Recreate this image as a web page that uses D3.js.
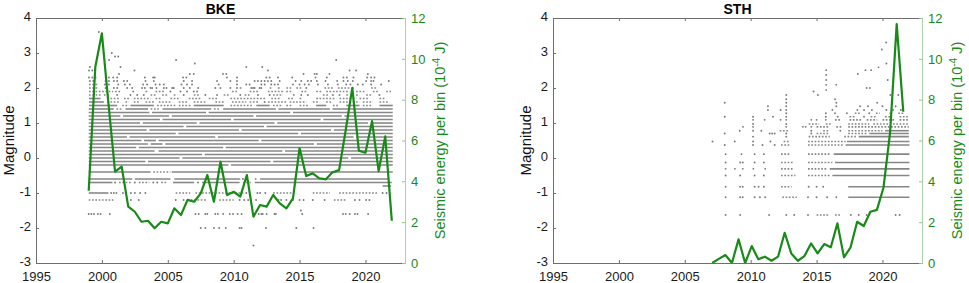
<!DOCTYPE html>
<html>
<head>
<meta charset="utf-8">
<script src="https://cdn.jsdelivr.net/npm/d3@7"></script>
<style>
body { margin: 0; background: #fff; }
text { font-family: "Liberation Sans", Arial, Helvetica, sans-serif; }
</style>
</head>
<body>
<div id="chart"></div>
<script>
var yearTicks = [1995, 2000, 2005, 2010, 2015, 2020];
var magTicks = [-3, -2, -1, 0, 1, 2, 3, 4];
var energyTicks = [0, 2, 4, 6, 8, 10, 12];

// event rows: "a-b" dense run, "a~b" dotted run, "a" single event
var bkeMag = [3.6, 3.0, 2.9, 2.8, 2.7, 2.6, 2.5, 2.4, 2.3, 2.2, 2.1, 2.0, 1.9, 1.8, 1.7, 1.6, 1.5, 1.4,
              1.3, 1.2, 1.1, 1.0, 0.9, 0.8, 0.7, 0.6, 0.5, 0.4, 0.3, 0.2, 0.1, 0.0, -0.1, -0.2,
              -0.4, -0.6, -0.7, -0.8, -1.0, -1.2, -1.5, -1.6, -2.0, -2.5];
var bkeRows = [
  "1999.77",
  "2000.75",
  "2001.0 2001.24",
  "2000.55 2005.63 2017.78",
  "2007.05",
  "1999.09 2001.41 2010.96 2012.17",
  "1999.02 1999.27 2002.47 2012.6 2018.79 2019.29",
  "2001.3 2006.67 2006.97 2009.19 2009.44 2015.3 2016.14 2016.31 2017.27 2020.18",
  "1999.02 1999.27 1999.52 2000.53 2000.86 2001.16 2003.26 2003.89 2004.01 2006.16 2006.41 2009.49 2010.25 2012.48 2012.73 2013.36 2014.44 2016.21 2017.07 2018.33 2018.59 2019.09 2020.13 2020.43 2020.68",
  "1999.09 1999.34 2000.28 2000.53 2000.91 2001.16 2001.67 2001.92 2003.31 2003.94 2006.21 2006.84 2008.74 2009.75 2010.25 2011.59 2011.84 2012.1 2012.35 2012.6 2012.85 2013.49 2014.7 2015.13 2015.63 2015.88 2016.31 2016.97 2017.85 2018.33 2018.66 2019.04 2020.05 2020.43 2020.61 2021.77",
  "1999.02~1999.65 2000.23 2000.53 2001.24 2001.74 2002.12 2003.13 2003.43 2004.07 2004.39 2004.7 2006.04 2006.46 2006.84 2008.86 2010.25 2010.96 2011.21 2012.1 2012.35 2012.85 2013.11 2013.36 2014.5 2015.0 2015.38 2015.71 2016.39 2017.15 2017.9 2018.54 2018.86 2019.42 2019.8 2020.43 2021.19",
  "1999.02~1999.77 2000.28 2000.4 2000.91 2001.16 2001.92 2002.3 2003.05 2003.26 2003.69 2003.81 2004.14 2004.7 2004.9 2005.33 2005.45 2006.21 2006.67 2007.3 2008.61 2008.99 2009.75 2010.25 2010.46~2010.71 2011.34 2011.47 2011.59 2011.97 2012.1 2012.73~2012.85 2013.36~2013.61 2014.0~2014.37 2014.75~2015.13 2015.51 2016.89~2017.53 2017.9~2018.79 2019.04 2020.43~2020.81",
  "1999.02~2000.86 2001.0~2001.41 2002.37 2003.31~2003.56 2004.07~2004.7 2005.2 2005.96 2006.46 2006.97 2007.22 2009.87~2010.25 2011.21~2011.97 2012.6~2013.74 2013.99~2014.5 2015.13~2015.51 2016.26~2016.77 2017.02~2018.79 2019.29~2020.05 2020.56~2021.06 2021.57~2021.94",
  "1999.02~1999.9 2000.15~2000.53 2001.16 2002.17 2002.68 2003.18 2003.69~2004.19 2004.57~2004.95 2005.45~2005.71 2006.21 2006.97~2007.35 2007.85 2008.74 2009.24~2009.75 2010.5 2010.83~2011.21 2011.84 2012.73 2012.98~2013.74 2014.5~2014.75 2015.13 2015.63 2016.77~2017.27 2017.53 2018.03 2018.54~2018.79 2019.29~2019.55 2020.05~2020.56 2021.06",
  "1999.02-1999.9 2000.4~2001.41 2001.67~2002.05 2002.42~2003.69 2004.07~2004.57 2005.2~2005.96 2006.59~2007.47 2008.11~2008.74 2009.75~2012.48 2012.85~2013.49 2014.12~2014.62 2015.0~2015.25 2016.26~2017.78 2018.03~2019.29 2019.55~2020.3 2021.06~2021.57",
  "1999.02-2000.15 2000.4~2001.41 2001.79~2002.05 2002.42~2002.93 2003.31~2004.07 2004.32~2005.2 2005.83~2006.46 2006.97~2007.98 2008.61~2009.24 2009.87~2010.96 2011.21~2011.97 2012.35 2012.6~2013.99 2014.24~2015.51 2016.01~2016.52 2017.02~2017.53 2018.03~2019.55 2019.8~2020.56 2021.06~2021.82",
  "1999.02-2001.16 2001.54~2002.05 2002.17-2003.94 2004.19~2005.58 2005.83~2006.72 2006.97-2009.24 2009.75~2011.47 2011.72-2012.73 2012.98~2013.74 2013.99~2014.5 2015.0~2015.76 2016.26-2017.02 2017.53~2018.03 2018.54-2019.55 2019.8~2020.56 2021.06-2022.07",
  "1999.0-2000.9 2001.1~2001.6 2001.8-2003.5 2003.7~2004.4 2004.6-2008.3 2008.5~2009.0 2009.2-2013.2 2013.4-2017.3 2017.5-2022.07",
  "1999.0-2003.6 2003.8-2007.9 2008.1-2014.3 2014.5-2022.07",
  "1999.0-2001.4 2001.6-2005.1 2005.3-2011.5 2011.7-2018.2 2018.4-2022.07",
  "1999.0-2004.4 2004.6-2009.8 2010.0-2016.6 2016.8-2022.07",
  "1999.0-2002.9 2003.1-2007.2 2007.4-2013.1 2013.3-2020.2 2020.4-2022.07",
  "1999.0-2006.2 2006.4-2012.3 2012.5-2022.07",
  "1999.0-2003.4 2003.6-2010.4 2010.6-2017.4 2017.6-2022.07",
  "1999.0-2005.6 2005.8-2014.9 2015.1-2022.07",
  "1999.0-2001.9 2002.1-2008.6 2008.8-2019.1 2019.3-2022.07",
  "1999.0-2003.0 2003.2-2004.1 2004.3-2011.9 2012.1-2022.07",
  "1999.0-2003.5 2003.7-2004.6 2004.8-2016.1 2016.3-2022.07",
  "1999.0-2002.6 2002.8-2009.2 2009.4-2022.07",
  "1999.0-2004.0 2004.3-2013.7 2013.9-2022.07",
  "1999.0-2007.6 2007.8-2022.07",
  "1999.0-2005.9 2006.1-2018.7 2018.9-2022.07",
  "1999.0-2003.3 2003.5-2012.8 2013.0-2022.07",
  "1999.0-2009.6 2009.8-2022.07",
  "1999.0-2003.7 2003.9~2005.2 2005.3-2022.07",
  "1999.0-2002.3 2002.5-2005.2 2005.5-2010.5 2010.7 2011.6~2011.85 2012.0-2021.7",
  "1999.0-2000.8 2001.0 2001.3~2002.2 2002.5 2002.8~2003.6 2003.9 2004.2 2004.5~2005.0 2005.4-2007.0 2007.3 2007.6-2010.45 2010.7~2011.3 2011.6-2022.0",
  "2021.3-2021.95",
  "1999.0-2000.5 2000.7 2000.9 2001.1 2001.6 2002.2 2002.5 2002.9 2003.3 2005.6~2006.7 2007.1~2010.8 2010.96 2011.8 2012.0 2012.4 2013.0~2014.4 2016.0~2017.3 2018.0~2021.0 2021.3 2021.6",
  "1999.0~2000.9 2002.2 2002.8 2005.6 2006.2 2006.5~2008.0 2008.5 2008.9~2010.0 2010.45 2010.8 2011.1 2011.7 2013.4 2013.6 2014.0 2014.5 2015.0 2015.3 2016.0 2016.9 2017.6~2018.5 2019.2 2019.55 2020.05 2020.3",
  "2015.1",
  "1999.0 1999.2 1999.4 1999.7 1999.9 2000.6 2007.1 2007.35 2007.85 2008.0 2008.6 2008.8 2009.2 2009.7 2009.95 2010.3 2010.6 2011.5 2011.9 2012.1 2012.2 2012.5 2013.1 2013.2 2015.2 2018.3 2018.5 2018.8 2019.2 2019.4 2020.2",
  "2007.5 2007.85 2008.5 2008.9 2009.4 2010.45 2010.6 2012.45 2014.75 2016.06",
  "2011.5"
];
var bkeBinYear = [1999.0, 1999.5, 2000.0, 2000.5, 2001.0, 2001.5, 2002.0, 2002.5, 2003.0, 2003.5,
                  2004.0, 2004.5, 2005.0, 2005.5, 2006.0, 2006.5, 2007.0, 2007.5, 2008.0, 2008.5,
                  2009.0, 2009.5, 2010.0, 2010.5, 2011.0, 2011.5, 2012.0, 2012.5, 2013.0, 2013.5,
                  2014.0, 2014.5, 2015.0, 2015.5, 2016.0, 2016.5, 2017.0, 2017.5, 2018.0, 2018.5,
                  2019.0, 2019.5, 2020.0, 2020.5, 2021.0, 2021.5, 2022.0];
var bkeEnergy = [3.54, 9.6, 11.25, 7.8, 4.47, 4.72, 2.76, 2.51, 2.02, 2.07,
                 1.70, 2.02, 1.94, 2.68, 2.35, 3.09, 3.0, 3.41, 4.31, 3.0,
                 4.96, 3.33, 3.49, 3.25, 4.31, 2.27, 2.84, 2.76, 3.33, 2.92,
                 2.68, 3.17, 5.62, 4.26, 4.39, 4.15, 4.1, 4.44, 4.55, 6.5,
                 8.58, 5.5, 5.4, 6.95, 4.5, 6.2, 2.07];

var sthMag = [3.3, 3.1, 2.7, 2.59, 2.51, 2.4, 2.37, 2.23, 2.09, 2.0, 1.94, 1.9, 1.8, 1.68, 1.58, 1.48,
              1.37, 1.28, 1.18, 1.09, 0.97, 0.89, 0.78, 0.70, 0.61, 0.47, 0.37, 0.11, -0.13, -0.31,
              -0.50, -0.82, -1.12, -1.63];
var sthRows = [
  "2020.28",
  "2019.95",
  "2020.3",
  "2019.7",
  "2015.73 2018.71 2019.14",
  "2018.13",
  "2015.73",
  "2015.73 2020.4",
  "2015.73 2016.49",
  "2018.8 2019.05",
  "2015.73",
  "2014.77",
  "2012.7 2015.1 2020.6 2021.2",
  "2012.7 2016.4",
  "2008.03 2012.7 2016.5 2019.6",
  "2011.31 2012.7 2016.5 2018.3 2018.9 2020.0 2021.0",
  "2011.31 2012.27 2012.7 2016.2 2018.1 2018.6 2019.2 2020.3 2020.8 2021.4",
  "2012.7 2015.7 2016.4 2017.3 2017.9~2018.3 2019.0 2019.5~2019.8 2020.6 2021.2~2021.6",
  "2008.03 2010.18 2011.69 2012.7 2015.7 2016.6 2017.5~2018.0 2018.6 2019.1~2019.6 2020.2~2020.7 2021.3~2022.0",
  "2010.18 2011.06 2012.27 2012.7 2014.6 2015.0 2015.7 2016.4~2016.8 2017.5~2018.4 2018.8~2019.6 2020.0~2020.9 2021.3~2022.0",
  "2010.18 2012.7 2014.4~2015.2 2015.7~2016.2 2017.4~2019.0 2019.3~2020.5 2020.8~2022.0",
  "2009.42 2010.18 2012.7 2013.96 2014.17 2014.6 2015.0~2016.0 2016.5~2017.0 2017.4~2022.0",
  "2009.17 2010.18 2010.81 2012.2~2012.9 2014.6 2015.5~2016.0 2016.8 2017.4~2020.0 2020.2-2022.0",
  "2008.03 2011.44 2011.63 2011.82 2012.7 2014.6 2015.0~2016.0 2017.4~2018.8 2019.0-2022.0",
  "2010.18 2012.7 2014.4~2016.0 2017.1~2018.0 2018.2-2022.0",
  "2007.1 2008.79 2010.18 2011.5 2012.5~2013.0 2014.35~2017.2 2017.3-2022.05",
  "2008.03 2010.18 2010.9 2011.82 2012.3~2013.0 2014.35~2017.0 2017.2-2022.05",
  "2008.1 2009.3 2010.3 2011.0 2012.3~2013.0 2014.35~2016.0 2016.3-2022.05",
  "2008.1 2009.2 2009.4 2010.3 2011.0 2012.3~2013.2 2014.35~2016.2 2016.4-2022.05",
  "2008.1 2008.8 2009.4 2010.2 2011.1 2012.3~2013.2 2014.35~2015.8 2016.0-2022.05",
  "2008.1 2009.2 2010.3 2011.0 2012.3~2013.4 2014.35~2016.0 2016.2-2022.05",
  "2008.1 2009.2 2009.4 2010.3 2010.6 2011.0 2012.3~2013.1 2014.4 2015.0 2015.5 2017.4-2022.05",
  "2008.1 2009.2 2009.4 2010.3 2010.7 2011.1 2012.4~2013.5 2014.35 2015.0 2015.8 2016.5 2017.4-2022.05",
  "2008.1 2009.2 2011.4 2012.7 2013.3 2014.35 2015.0~2015.98 2016.4~2016.9 2017.6 2018.2 2018.8 2021.0 2021.3"
];
var sthBinYear = [2007.08, 2007.58, 2008.08, 2008.58, 2009.08, 2009.58, 2010.08, 2010.58, 2011.08, 2011.58,
                  2012.08, 2012.58, 2013.08, 2013.58, 2014.08, 2014.58, 2015.08, 2015.58, 2016.08, 2016.58,
                  2017.08, 2017.58, 2018.08, 2018.58, 2019.08, 2019.58, 2020.08, 2020.58, 2021.08, 2021.58];
var sthEnergy = [0, 0.2, 0.39, 0, 1.16, 0, 0.83, 0.18, 0.31, 0.11,
                 0.31, 1.48, 0.47, 0.11, 0.34, 0.96, 0.47, 0.93, 0.77, 1.94,
                 0.28, 0.77, 2.02, 1.81, 2.51, 2.6, 3.7, 6.4, 11.7, 7.41];

var green = "#188a18";

function drawPanel(svg, left, title, mags, rows, binYear, energy) {
    var w = 369;
    var top = 18;
    var bottom = 263;
    var right = left + w;

    var x = d3.scaleLinear().domain([1995, 2023]).range([left, right]);
    var y = d3.scaleLinear().domain([-3, 4]).range([bottom, top]);
    var yE = d3.scaleLinear().domain([0, 12]).range([bottom, top]);

    var g = svg.append("g");

    // catalogue events
    var runs = [], dots = [];
    rows.forEach(function(str, i) {
        str.split(" ").forEach(function(tok) {
            if (tok.indexOf("-") > 0) {
                var p = tok.split("-");
                runs.push({a: +p[0], b: +p[1], m: mags[i], dotted: false});
            } else if (tok.indexOf("~") > 0) {
                var q = tok.split("~");
                runs.push({a: +q[0], b: +q[1], m: mags[i], dotted: true});
            } else {
                dots.push({t: +tok, m: mags[i]});
            }
        });
    });

    g.selectAll("line.run")
        .data(runs)
        .enter()
        .append("line")
        .attr("class", "run")
        .attr("x1", function(d) { return x(d.a); })
        .attr("x2", function(d) { return x(d.b); })
        .attr("y1", function(d) { return y(d.m); })
        .attr("y2", function(d) { return y(d.m); })
        .attr("stroke", "#878787")
        .attr("stroke-width", 1.6)
        .attr("stroke-dasharray", function(d) { return d.dotted ? "1.7 1.6" : null; });

    g.selectAll("circle.ev")
        .data(dots)
        .enter()
        .append("circle")
        .attr("class", "ev")
        .attr("cx", function(d) { return x(d.t); })
        .attr("cy", function(d) { return y(d.m); })
        .attr("r", 0.95)
        .attr("fill", "#7a7a7a");

    // energy per bin
    var line = d3.line()
        .x(function(d, i) { return x(binYear[i]); })
        .y(function(d) { return yE(d); });

    g.append("path")
        .datum(energy)
        .attr("d", line)
        .attr("fill", "none")
        .attr("stroke", green)
        .attr("stroke-width", 2.2)
        .attr("stroke-linejoin", "round");

    // axes, ticks inside
    var axB = g.append("g")
        .attr("transform", "translate(0," + bottom + ")")
        .call(d3.axisBottom(x).tickValues(yearTicks).tickFormat(d3.format("d")).tickSize(-3).tickSizeOuter(0).tickPadding(9));
    var axT = g.append("g")
        .attr("transform", "translate(0," + top + ")")
        .call(d3.axisTop(x).tickValues(yearTicks).tickFormat("").tickSize(-3).tickSizeOuter(0));
    var axL = g.append("g")
        .attr("transform", "translate(" + left + ",0)")
        .call(d3.axisLeft(y).tickValues(magTicks).tickFormat(d3.format("d")).tickSize(-3).tickSizeOuter(0).tickPadding(5));
    var axR = g.append("g")
        .attr("transform", "translate(" + right + ",0)")
        .call(d3.axisRight(yE).tickValues(energyTicks).tickFormat(d3.format("d")).tickSize(-3).tickSizeOuter(0).tickPadding(6));

    [axB, axT, axL].forEach(function(a) {
        a.select(".domain").attr("stroke", "#6e6e6e");
        a.selectAll(".tick line").attr("stroke", "#6e6e6e");
        a.selectAll("text").attr("fill", "#1a1a1a").style("font-size", "13px")
            .style("font-family", "'Liberation Sans', Arial, sans-serif");
    });
    axL.selectAll("text")
        .attr("dy", "0.22em")
        .text(function(d) { return d < 0 ? "-" + Math.abs(d) : d; });
    axR.select(".domain").attr("stroke", "#a9d3a9");
    axR.selectAll(".tick line").attr("stroke", "#8cc48c");
    axR.selectAll("text").attr("fill", green).style("font-size", "13px")
        .style("font-family", "'Liberation Sans', Arial, sans-serif");

    // title and axis labels
    g.append("text")
        .attr("x", (left + right) / 2)
        .attr("y", 13.5)
        .attr("text-anchor", "middle")
        .style("font-size", "14px")
        .style("font-weight", "bold")
        .text(title);

    g.append("text")
        .attr("transform", "translate(" + (left - 22) + "," + (top + bottom) / 2 + ") rotate(-90)")
        .attr("text-anchor", "middle")
        .style("font-size", "15px")
        .attr("fill", "#111")
        .text("Magnitude");

    var rl = g.append("text")
        .attr("transform", "translate(" + (right + 40) + "," + (top + bottom) / 2 + ") rotate(-90)")
        .attr("text-anchor", "middle")
        .style("font-size", "14.5px")
        .attr("fill", green);
    rl.append("tspan").text("Seismic energy per bin (10");
    rl.append("tspan").attr("dy", -5).style("font-size", "10px").text("-4");
    rl.append("tspan").attr("dy", 5).text(" J)");
}

function init() {
    var svg = d3.select("#chart")
        .append("svg")
        .attr("width", 969)
        .attr("height", 283)
        .style("background", "#fff");

    drawPanel(svg, 36, "BKE", bkeMag, bkeRows, bkeBinYear, bkeEnergy);
    drawPanel(svg, 553, "STH", sthMag, sthRows, sthBinYear, sthEnergy);
}
window.onload = init;
</script>
</body>
</html>
